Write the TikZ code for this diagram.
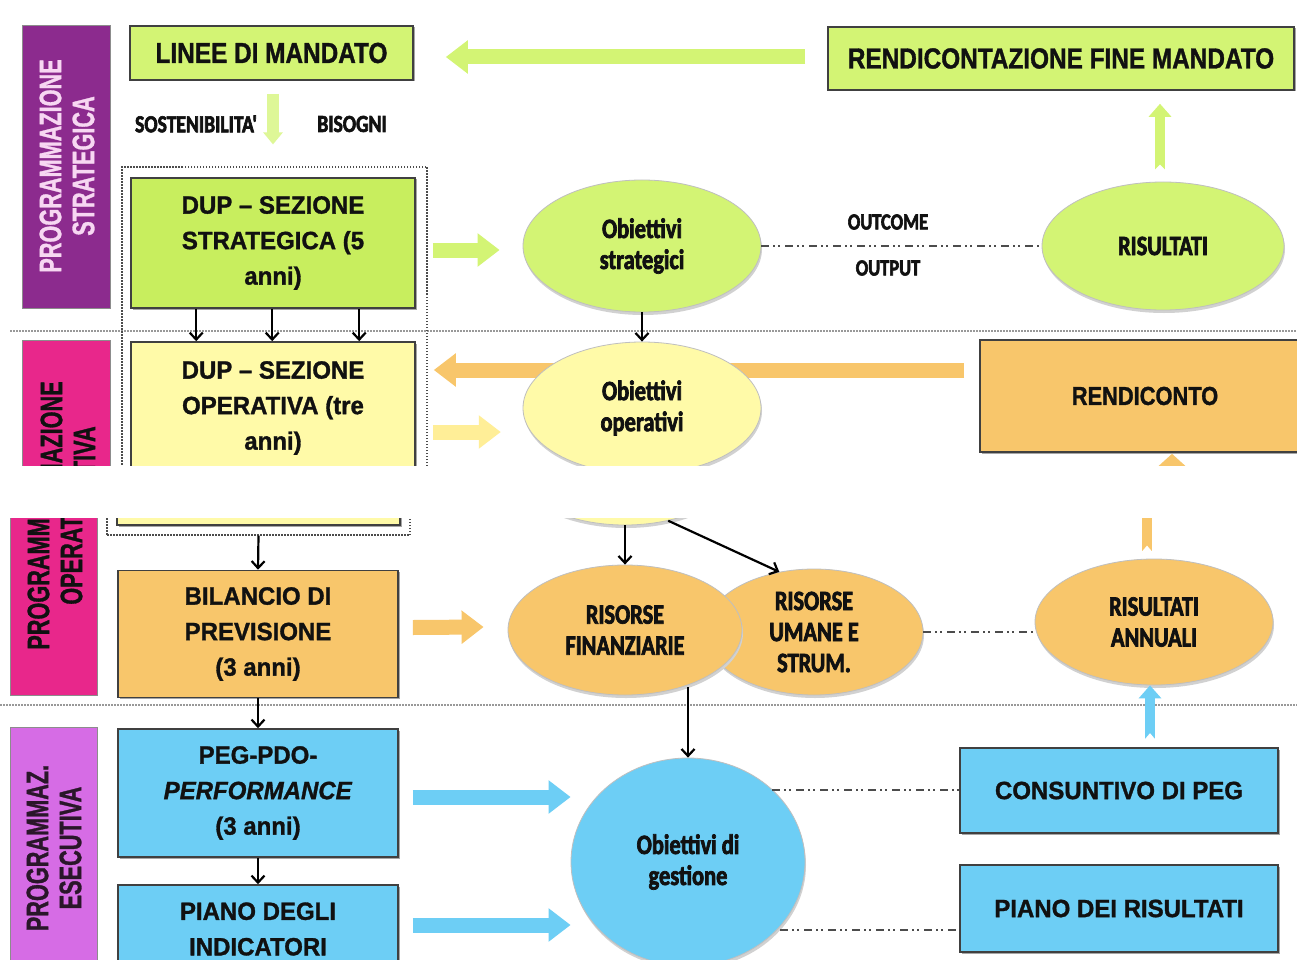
\documentclass[tikz,border=0pt]{standalone}
\usepackage{fontspec}
\setmainfont{Liberation Sans}
\newfontfamily\arw[FakeStretch=0.96, FakeBold=1.2]{Liberation Sans}
\newfontfamily\arn[FakeStretch=0.84, FakeBold=1.2]{Liberation Sans}
\newfontfamily\barf[FakeStretch=0.7, FakeBold=1]{Liberation Sans}
\newfontfamily\calf[FakeStretch=0.8, FakeBold=2.5]{Carlito}
\usetikzlibrary{arrows.meta,shapes.geometric,calc,shadows}
\definecolor{gA}{HTML}{D3F474}
\definecolor{gB}{HTML}{C8EE5E}
\definecolor{yA}{HTML}{FFFAA8}
\definecolor{oA}{HTML}{F8C66B}
\definecolor{bA}{HTML}{6DCEF5}
\definecolor{pS}{HTML}{8C2B8E}
\definecolor{pO}{HTML}{E8278B}
\definecolor{pE}{HTML}{D66CE5}
\definecolor{txtS}{HTML}{F7D7F2}
\definecolor{ink}{HTML}{111111}
\tikzset{
  box/.style={draw=black!75, line width=1.6pt, inner sep=0pt, align=center, text=ink,
    general shadow={fill=black!35, shadow xshift=1.5pt, shadow yshift=-1.5pt},
    font=\arw\bfseries\fontsize{25}{35.5}\selectfont},
  titlebox/.style={box, font=\arn\bfseries\fontsize{29}{34}\selectfont},
  ell/.style={ellipse, inner sep=0pt, align=center, text=ink, draw=black!25, line width=0.8pt,
    general shadow={fill=black!18, shadow xshift=1pt, shadow yshift=-3pt},
    font=\calf\bfseries\fontsize{28}{31}\selectfont},
  sidebar/.style={rectangle, inner sep=0pt, draw=black!45, line width=0.6pt},
  bartxt/.style={rotate=90, align=center, inner sep=0pt, font=\barf\bfseries\fontsize{31}{33}\selectfont},
  lbl/.style={inner sep=0pt, text=ink, font=\calf\bfseries\fontsize{23}{26}\selectfont},
  sep/.style={draw=black!40, line width=1.6pt, dash pattern=on 1.5pt off 1.5pt},
  frame/.style={rectangle, inner sep=0pt, draw=black!70, line width=1.2pt, dash pattern=on 1.5pt off 1.5pt},
  link/.style={draw=black, line width=2.2pt, -{Straight Barb[length=7pt,width=13pt]}},
  dd/.style={draw=black!70, line width=2.6pt, dash pattern=on 8pt off 4pt on 2pt off 3pt on 2pt off 5pt},
  bigarrow/.style={line width=15pt, -{Triangle[length=22pt,width=32pt]}},
  smallup/.style={line width=10pt, -{Triangle[length=13pt,width=22pt]}},
}
\begin{document}
\begin{tikzpicture}[x=1pt,y=-1pt]
\useasboundingbox (0,0) rectangle (1297,960);
\fill[white] (0,0) rectangle (1297,960);

% ================= TOP PART =================
\begin{scope}
\clip (0,0) rectangle (1297,465);
\draw[sep] (10,331) -- (1297,331);

\node[sidebar, fill=pS, minimum width=88pt, minimum height=283pt] (barS) at (66,166.5) {};
\node[bartxt, text=txtS] (barSt) at (67,166) {PROGRAMMAZIONE\\STRATEGICA};
\node[sidebar, fill=pO, minimum width=88pt, minimum height=360pt] (barO) at (66,520) {};
\node[bartxt, text=ink] (barOt) at (68,488) {PROGRAMMAZIONE\\OPERATIVA};

\node[frame, minimum width=305pt, minimum height=393pt] (frm) at (274.5,363.5) {};

\node[titlebox, fill=gA, minimum width=283pt, minimum height=54pt] (linee) at (271.5,53) {LINEE DI MANDATO};
\node[titlebox, fill=gA, minimum width=466pt, minimum height=63pt] (rend) at (1061,58.5) {RENDICONTAZIONE FINE MANDATO};

\node[lbl, font=\calf\bfseries\fontsize{24.5}{26}\selectfont] (sost) at (196,124) {SOSTENIBILITA'};
\node[lbl, font=\calf\bfseries\fontsize{24.5}{26}\selectfont] (bis) at (352,124) {BISOGNI};

\node[box, fill=gB, minimum width=284pt, minimum height=130pt] (dups) at (273,243) {DUP – SEZIONE\\STRATEGICA (5\\anni)};
\node[box, fill=yA, minimum width=284pt, minimum height=132pt] (dupo) at (273,408) {DUP – SEZIONE\\OPERATIVA (tre\\anni)};

\draw[line width=12pt, gA!75!white, -{Triangle[length=12pt,width=19pt]}] ($(linee.south)+(1.5,13)$) -- ($(frm.north)+(-1.5,-22)$);

\node[ell, fill=gA, minimum width=238pt, minimum height=132pt] (obs) at (642,246) {Obiettivi\\strategici};
\node[ell, fill=gA, minimum width=242pt, minimum height=128pt] (ris) at (1163,246) {RISULTATI};
\node[box, fill=oA, minimum width=330pt, minimum height=112pt, font=\arn\bfseries\fontsize{26}{30}\selectfont, text width=300pt] (rdc) at (1145,396) {RENDICONTO};

% big block arrows
\draw[bigarrow, gA] ($(rend.west)+(-22,-1.5)$) -- ($(linee.east)+(32,4)$);
\draw[smallup, gA] ($(ris.north)+(-3,-12)$) -- ($(rend.south)+(99,13)$);
\fill[white] ($(ris.north)+(-9,-11)$) -- ($(ris.north)+(-3,-17)$) -- ($(ris.north)+(3,-11)$) -- cycle;
\draw[bigarrow, gA] ($(dups.east)+(17,7)$) -- ($(obs.west)+(-23,4)$);
\draw[bigarrow, oA] ($(rdc.west)+(-15,-26)$) -- ($(dupo.east)+(18,-38)$);
\draw[bigarrow, yA!90!orange] ($(dupo.east)+(17,24)$) -- ($(dupo.east)+(85,24)$);
\draw[smallup, oA, line width=14pt, -{Triangle[length=14pt,width=30pt]}] ($(rdc.south)+(27,80)$) -- ($(rdc.south)+(27,1)$);

\node[ell, fill=yA, minimum width=238pt, minimum height=132pt] (obo) at (642,408) {Obiettivi\\operativi};

% connectors
\draw[link] ($(dups.south west)+(66,0)$) -- ($(dupo.north west)+(66,0)$);
\draw[link] ($(dups.south west)+(142,0)$) -- ($(dupo.north west)+(142,0)$);
\draw[link] ($(dups.south west)+(229,0)$) -- ($(dupo.north west)+(229,0)$);
\draw[link] (obs.south) -- (obo.north);
\draw[dd] (obs.east) -- (ris.west);
\node[lbl] (outc) at (888,222) {OUTCOME};
\node[lbl] (outp) at (888,268) {OUTPUT};
\end{scope}

% ================= BOTTOM PART =================
\begin{scope}
\clip (0,518) rectangle (1297,960);
\draw[sep] (0,705) -- (1297,705);

\node[sidebar, fill=pO, minimum width=87pt, minimum height=395pt] (barO2) at (53.5,497.5) {};
\node[bartxt, text=ink] (barO2t) at (55,543) {PROGRAMMAZIONE\\OPERATIVA};
\node[sidebar, fill=pE, minimum width=87pt, minimum height=273pt] (barE) at (53.5,863.5) {};
\node[bartxt, text=ink!80!pS] (barEt) at (54,848) {PROGRAMMAZ.\\ESECUTIVA};

\node[frame, minimum width=303pt, minimum height=385pt] (frm2) at (258.5,342.5) {};
\node[box, fill=yA, minimum width=283pt, minimum height=125pt] (dupo2) at (258.5,462.5) {};

\node[box, fill=oA, minimum width=280pt, minimum height=127pt] (bil) at (258,634) {BILANCIO DI\\PREVISIONE\\(3 anni)};
\node[box, fill=bA, minimum width=280pt, minimum height=128pt] (peg) at (258,793) {PEG-PDO-\\\textit{PERFORMANCE}\\(3 anni)};
\node[box, fill=bA, minimum width=280pt, minimum height=88pt] (pia) at (258,929) {PIANO DEGLI\\INDICATORI};

\node[ell, fill=yA, minimum width=234pt, minimum height=132pt] (obo2) at (625,459) {};

\node[ell, fill=oA, minimum width=218pt, minimum height=126pt] (risu) at (814,632) {RISORSE\\UMANE E\\STRUM.};
\node[ell, fill=oA, minimum width=234pt, minimum height=130pt] (risf) at (625,630) {RISORSE\\FINANZIARIE};
\node[ell, fill=oA, minimum width=238pt, minimum height=126pt] (risa) at (1154,622) {RISULTATI\\ANNUALI};
\node[ell, fill=bA, minimum width=234pt, minimum height=208pt] (gest) at (688,862) {Obiettivi di\\gestione};

\node[box, fill=bA, minimum width=318pt, minimum height=85pt] (cons) at (1119,790.5) {CONSUNTIVO DI PEG};
\node[box, fill=bA, minimum width=318pt, minimum height=87pt] (pdr) at (1119,908.5) {PIANO DEI RISULTATI};

% block arrows
\draw[bigarrow, oA] ($(bil.east)+(14,-6.5)$) -- ($(risf.west)+(-24,-3)$);
\coordinate (p1) at ($(peg.east)+(14,4)$);
\draw[bigarrow, bA] (p1) -- (p1 -| gest.west);
\coordinate (p2) at ($(pia.east)+(14,-4)$);
\draw[bigarrow, bA] (p2) -- (p2 -| gest.west);
\coordinate (b1) at ($(cons.north)+(31,-8)$);
\draw[smallup, bA] (b1) -- (b1 |- risa.south);
\fill[white] ($(b1)+(-6,1)$) -- ($(b1)+(0,-6)$) -- ($(b1)+(6,1)$) -- cycle;
\coordinate (b2) at ($(risa.north)+(-7,-7)$);
\draw[smallup, oA, -{Triangle[length=14pt,width=30pt]}] (b2) -- ($(b2)+(0,-60)$);
\fill[white] ($(b2)+(-6,1)$) -- ($(b2)+(0,-6)$) -- ($(b2)+(6,1)$) -- cycle;

% connectors
\draw[link] (frm2.south) -- (bil.north);
\draw[link] (bil.south) -- (peg.north);
\draw[link] (peg.south) -- (pia.north);
\draw[link] (obo2.south) -- (risf.north);
\draw[link] (obo2.-55) -- (risu.120);
\draw[link] (risf.-45 -| gest.north) -- (gest.north);
\draw[dd] (risu.east) -- (risa.west |- risu.east);
\coordinate (g1) at ($(gest.center)+(84,-72)$);
\draw[dd] (g1) -- (g1 -| cons.west);
\coordinate (g2) at ($(gest.center)+(92,68)$);
\draw[dd] (g2) -- (g2 -| pdr.west);
\end{scope}
\end{tikzpicture}
\end{document}
